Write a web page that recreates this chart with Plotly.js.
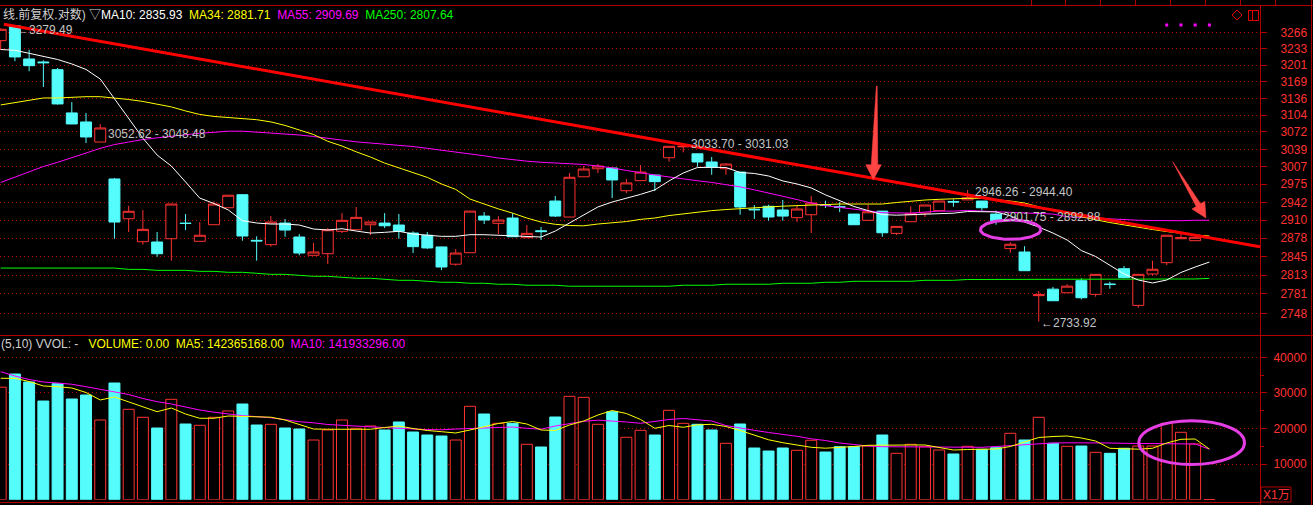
<!DOCTYPE html>
<html><head><meta charset="utf-8">
<script src="https://cdn.plot.ly/plotly-3.0.1.min.js"></script>
<style>html,body{margin:0;padding:0;background:#000;overflow:hidden}#chart{width:1313px;height:505px}</style>
</head><body><div id="chart"></div>
<script>
// ---------- price candles (index 0..84) ----------
const openP = [3249.2,3279.0,3212.9,3207.0,3191.9,3108.1,3090.9,3053.0,2984.5,2912.4,
 2871.6,2871.1,2876.9,2904.6,2872.3,2901.7,2932.2,2955.8,2874.0,2866.4,
 2904.7,2879.9,2847.7,2850.5,2890.0,2892.8,2901.7,2904.7,2901.2,2886.9,
 2883.0,2862.4,2832.2,2852.2,2917.2,2904.2,2913.7,2878.7,2891.0,2944.3,
 2915.5,2988.5,3003.3,3004.6,2963.0,2981.4,2991.7,3023.7,3044.0,3031.0,
 3015.8,3003.3,2997.2,2929.5,2934.8,2928.1,2914.3,2919.6,2938.0,2934.0,
 2920.8,2909.6,2926.1,2886.4,2907.1,2922.5,2926.9,2943.5,2946.3,2944.3,
 2920.8,2859.4,2853.5,2778.0,2789.1,2782.9,2803.6,2780.2,2798.0,2824.4,
 2761.4,2815.2,2834.8,2876.9,2873.4];
const highP = [3274.0,3279.49,3231.2,3210.3,3195.2,3129.1,3108.0,3087.1,2986.3,2935.8,
 2927.9,2888.7,2939.5,2920.8,2906.5,2943.8,2955.0,2957.0,2881.2,2917.2,
 2911.9,2885.2,2869.4,2895.8,2922.5,2933.5,2906.7,2922.5,2920.8,2890.0,
 2888.7,2862.6,2858.8,2926.3,2924.3,2917.2,2922.5,2901.2,2897.6,2953.5,
 2995.4,3008.3,3012.0,3004.8,2984.5,3010.2,2991.9,3045.2,3047.5,3031.03,
 3025.0,3013.9,2997.4,2937.1,2937.6,2946.2,2936.6,2953.5,2944.9,2942.5,
 2921.0,2937.6,2926.3,2898.9,2934.8,2937.3,2944.5,2947.4,2964.4,2944.40,
 2926.9,2870.6,2863.6,2785.8,2793.0,2797.6,2807.6,2814.8,2801.9,2829.1,
 2814.8,2838.3,2883.2,2888.2,2883.4];
const lowP = [3230.6,3208.4,3188.8,3158.0,3124.0,3086.5,3051.2,3052.62,2876.9,2888.7,
 2866.4,2845.2,2838.3,2892.3,2872.0,2901.5,2932.0,2873.4,2838.3,2862.9,
 2880.4,2847.7,2847.5,2832.5,2886.9,2892.5,2883.0,2895.8,2876.9,2851.7,
 2858.8,2822.1,2829.6,2852.0,2903.0,2885.2,2880.2,2878.5,2874.6,2915.5,
 2915.3,2988.3,2995.4,2949.7,2958.7,2981.2,2962.4,3016.3,3033.70,3007.0,
 2992.2,2992.2,2919.6,2911.9,2908.9,2908.9,2906.5,2886.9,2931.7,2924.3,
 2901.5,2909.4,2880.4,2883.4,2907.0,2915.5,2926.7,2934.0,2946.26,2926.9,
 2901.75,2852.2,2820.7,2733.92,2769.0,2782.7,2771.7,2776.1,2789.7,2807.8,
 2757.3,2812.9,2830.8,2876.7,2873.2];
const closeP = [3272.0,3216.9,3199.7,3205.5,3125.3,3087.1,3062.5,3079.5,2906.5,2925.8,
 2893.5,2850.5,2938.9,2904.0,2883.0,2938.9,2954.8,2881.7,2873.0,2906.5,
 2892.3,2851.7,2853.5,2892.8,2909.6,2914.9,2906.5,2899.9,2890.0,2862.9,
 2860.6,2827.3,2851.7,2926.1,2910.1,2910.1,2880.4,2886.4,2889.5,2917.2,
 2987.6,3002.8,3008.3,2982.7,2977.2,2997.2,2979.6,3045.0,3045.0,3015.8,
 3006.5,3012.0,2933.5,2928.5,2915.5,2917.2,2929.9,2940.7,2937.0,2933.0,
 2901.7,2924.9,2887.4,2898.8,2921.4,2937.1,2944.3,2942.5,2950.4,2932.2,
 2908.9,2867.1,2820.9,2779.5,2769.3,2794.2,2774.4,2814.6,2797.0,2808.8,
 2814.6,2823.4,2883.0,2878.7,2879.4];

// ---------- moving averages (index 0..85) ----------
const ma10 = [3231.6,3230.1,3224.1,3218.2,3211.9,3203.1,3192.3,3173.6,3135.8,3098.5,
 3060.3,3028.7,3008.3,2979.0,2949.6,2939.8,2928.3,2908.9,2904.8,2903.0,
 2903.0,2901.2,2894.1,2892.3,2894.6,2890.5,2886.9,2888.2,2890.0,2885.2,
 2882.9,2881.1,2881.1,2884.0,2884.0,2882.9,2880.8,2879.9,2879.9,2890.5,
 2904.8,2919.0,2933.6,2942.5,2949.1,2956.4,2964.5,2980.9,2995.5,3005.6,
 3005.9,3005.6,2996.4,2994.6,2990.0,2980.9,2975.3,2968.1,2955.5,2945.3,
 2934.5,2927.0,2919.9,2918.8,2919.9,2921.2,2922.4,2922.4,2925.3,2925.3,
 2924.7,2917.6,2906.5,2897.6,2886.9,2874.6,2856.0,2845.6,2831.1,2815.2,
 2804.8,2799.7,2804.8,2817.8,2827.3,2835.93];
const ma34 = [3123.4,3128.2,3133.3,3136.8,3136.8,3138.7,3139.3,3139.3,3136.8,3133.9,
 3130.1,3125.3,3119.6,3111.9,3105.2,3101.4,3099.3,3097.0,3095.2,3091.0,
 3084.3,3075.7,3067.2,3054.4,3045.5,3034.7,3025.0,3013.8,3004.6,2996.8,
 2987.4,2975.3,2965.4,2947.9,2938.9,2930.1,2922.5,2913.7,2906.5,2902.5,
 2900.3,2899.8,2903.0,2904.8,2907.4,2911.3,2913.7,2918.1,2921.3,2923.5,
 2927.0,2928.9,2930.9,2931.7,2933.6,2935.0,2936.3,2937.2,2938.0,2938.9,
 2938.9,2938.9,2938.9,2941.6,2944.3,2946.1,2947.4,2948.8,2949.2,2949.2,
 2947.4,2944.3,2940.7,2933.6,2927.0,2921.6,2915.5,2910.6,2905.6,2901.2,
 2897.6,2893.2,2889.6,2886.1,2883.4,2881.71];
const ma55 = [2978.1,2988.2,2998.2,3007.4,3015.2,3023.1,3032.4,3041.2,3048.3,3053.0,
 3057.7,3060.9,3063.8,3067.2,3069.6,3071.3,3073.4,3073.4,3071.9,3070.4,
 3069.1,3066.3,3063.4,3059.7,3056.8,3053.4,3051.2,3049.3,3047.4,3044.6,
 3041.2,3038.0,3034.3,3030.6,3027.3,3023.2,3019.6,3017.3,3015.3,3014.0,
 3012.9,3011.2,3008.3,3005.0,3000.1,2995.5,2991.8,2988.2,2984.1,2981.2,
 2978.1,2974.4,2970.0,2964.6,2959.2,2952.9,2947.0,2940.7,2935.9,2933.1,
 2930.0,2926.5,2923.2,2922.6,2922.6,2924.3,2926.1,2926.1,2927.4,2926.1,
 2924.9,2923.8,2922.6,2922.0,2920.8,2916.0,2914.5,2913.1,2912.8,2911.0,
 2909.7,2909.2,2908.9,2908.9,2909.7,2909.69];
const ma250 = [2825.5,2825.5,2825.5,2825.5,2825.5,2825.5,2825.5,2825.5,2825.5,2823.2,
 2823.2,2821.5,2821.5,2821.5,2819.8,2819.8,2818.1,2818.1,2816.4,2814.6,
 2814.6,2812.9,2811.2,2811.2,2809.5,2807.8,2807.8,2806.1,2804.3,2804.3,
 2802.6,2800.9,2800.9,2799.2,2799.2,2797.5,2797.5,2795.8,2795.8,2795.8,
 2794.1,2794.1,2794.1,2794.1,2794.1,2794.1,2794.1,2794.1,2795.8,2795.8,
 2795.8,2797.5,2797.5,2797.5,2797.5,2799.2,2799.2,2799.2,2800.9,2800.9,
 2802.6,2802.6,2802.6,2802.6,2802.6,2804.3,2804.3,2804.3,2805.7,2805.7,
 2805.7,2805.7,2805.7,2805.7,2806.6,2806.6,2806.6,2806.6,2806.6,2806.6,
 2806.6,2806.6,2806.6,2806.6,2806.6,2807.64];

// ---------- volume (x1万, index 0..85) ----------
const volume = [31600,35300,33060,27720,32580,28290,29410,22390,32780,25390,
 23150,20140,28200,21260,20900,23150,24920,26880,20980,21180,
 20140,19860,16770,19580,22390,20060,20700,19580,21830,19020,
 18170,17890,16770,26240,24070,21460,21460,15560,14800,23230,
 29040,28760,21180,24720,17530,19490,18170,25110,21460,21180,
 19580,15840,21260,14520,13680,14520,13880,16690,13400,14890,
 14890,15080,18170,13030,15560,14890,13960,12840,15000,14160,
 14610,18650,16770,23150,15840,15000,15080,13310,13030,14440,
 15080,15080,21460,18930,15650,0];
const volMa5 = [34100,34100,33200,31940,31740,31380,30110,28010,28850,27440,
 26120,24720,25760,24070,22870,22870,23510,23430,23290,23170,
 22390,21120,19860,19780,19780,19780,19780,20280,20700,20000,
 19440,19100,18740,19580,20560,21410,21970,21260,19580,19440,
 20980,22110,23790,25060,24210,22530,20060,20840,20340,21040,
 21180,20560,19440,18030,16830,16010,15370,14720,14470,14660,
 14940,15280,15370,15370,15370,15370,14660,13960,14100,14240,
 14240,14940,16210,17470,17750,17890,17330,16490,14440,14240,
 14190,14440,15930,16970,17050,14237];
const volMa10 = [35960,34750,33760,33060,32780,32420,31740,30960,30250,29550,
 28430,27530,26880,26040,25200,24580,23990,23600,23340,23010,
 22470,21910,21600,21120,20900,20650,20480,20280,20060,19860,
 19690,19640,19860,20030,20200,20420,20420,20060,19800,20700,
 21320,22020,22330,22160,21830,21460,21970,22530,22810,22530,
 22110,20840,20060,19490,18880,18400,17810,17110,16630,15930,
 15450,15080,14890,14890,14890,14890,14890,14890,14800,14720,
 14940,15230,15450,15840,15930,15980,16010,15980,15930,15840,
 15840,15840,15840,15790,15650,14193];

// ---------- axes ticks ----------
const priceTicks = [3266,3233,3201,3169,3136,3104,3072,3039,3007,2975,2942,2910,2878,2845,2813,2781,2748];
const volTicks = [10000,20000,30000,40000];
const volMinorTicks = [15000,25000,35000];

// ---------- drawn annotations (gaps, trend line, arrows, marks) ----------
const gapIndex = [7, 48, 68, 70];
const gapHigh = [3052.62, 3033.70, 2946.26, 2901.75];
const gapLow  = [3048.48, 3031.03, 2944.40, 2892.88];
const trendIdx = [0.23, 88.56];
const trendPrice = [3282.1, 2862.8];
const arrow1Idx = [61.58, 61.22, 60.83, 61.37, 61.93, 61.68, 61.64, 61.58];
const arrow1Price = [3160.0, 3010.8, 3010.8, 2983.2, 3010.8, 3010.8, 3160.0, 3160.0];
const arrow2Idx = [82.42, 84.07, 83.77, 84.76, 84.68, 84.38, 82.42];
const arrow2Price = [3016.4, 2934.6, 2930.1, 2913.8, 2943.8, 2939.3, 3016.4];
const ellipsePriceIdx = [68.9, 73.15], ellipsePrice = [2875.9, 2910.1];
const ellipseVolIdx = [80.04, 87.47], ellipseVol = [9888, 22163];
const signalIdx = [82, 83, 84, 85];
const signalLevel = 3280.7;
const extremeHighIdx = 1, extremeHigh = 3279.49;
const extremeLowIdx = 73, extremeLow = 2733.92;

// ---------- build ----------
const RED = '#ff3232', CYAN = '#54fcfc';
const cIdx = openP.map((_, i) => i);
const allIdx = volume.map((_, i) => i);
const isUp = i => i >= openP.length || closeP[i] >= openP[i];
const volFill = allIdx.map(i => isUp(i) ? '#000000' : CYAN);
const volLine = allIdx.map(i => isUp(i) ? RED : CYAN);
const XMAX = 88.56, XMIN = -0.049;
const FONT = 'Liberation Sans, Arial, Noto Sans CJK SC, sans-serif';

// ellipse outline on the log price axis (hand-drawn mark)
const ANG = Array.from({length:73}, (_, k) => k * 2 * Math.PI / 72);
const ecx = (ellipsePriceIdx[0] + ellipsePriceIdx[1]) / 2, erx = (ellipsePriceIdx[1] - ellipsePriceIdx[0]) / 2;
const ecy = (Math.log10(ellipsePrice[0]) + Math.log10(ellipsePrice[1])) / 2;
const ery = (Math.log10(ellipsePrice[1]) - Math.log10(ellipsePrice[0])) / 2;
const ellX = ANG.map(t => ecx + erx * Math.cos(t));
const ellY = ANG.map(t => Math.pow(10, ecy + ery * Math.sin(t)));

const traces = [
  {type:'candlestick', x:cIdx, open:openP, high:highP, low:lowP, close:closeP,
   xaxis:'x', yaxis:'y', whiskerwidth:0, hoverinfo:'skip',
   increasing:{line:{color:RED, width:1}, fillcolor:'#000000'},
   decreasing:{line:{color:CYAN, width:1}, fillcolor:CYAN}},
  {type:'scatter', mode:'lines', x:allIdx, y:ma250, line:{color:'#00ff00', width:1}, yaxis:'y', hoverinfo:'skip'},
  {type:'scatter', mode:'lines', x:allIdx, y:ma55, line:{color:'#ff00ff', width:1}, yaxis:'y', hoverinfo:'skip'},
  {type:'scatter', mode:'lines', x:allIdx, y:ma34, line:{color:'#ffff00', width:1}, yaxis:'y', hoverinfo:'skip'},
  {type:'scatter', mode:'lines', x:allIdx, y:ma10, line:{color:'#ffffff', width:1}, yaxis:'y', hoverinfo:'skip'},
  {type:'scatter', mode:'lines', x:trendIdx, y:trendPrice, line:{color:'#ff0000', width:3}, yaxis:'y', hoverinfo:'skip'},
  {type:'scatter', mode:'lines', x:ellX, y:ellY, line:{color:'#e43ee4', width:3}, yaxis:'y', hoverinfo:'skip'},
  {type:'scatter', mode:'lines', x:arrow1Idx, y:arrow1Price, fill:'toself', fillcolor:'#ff4444', line:{color:'#ff4444', width:0.5}, yaxis:'y', hoverinfo:'skip'},
  {type:'scatter', mode:'lines', x:arrow2Idx, y:arrow2Price, fill:'toself', fillcolor:'#ff4444', line:{color:'#ff4444', width:0.5}, yaxis:'y', hoverinfo:'skip'},
  {type:'scatter', mode:'markers', x:signalIdx, y:signalIdx.map(() => signalLevel), marker:{color:'#ff00ff', size:3, symbol:'square'}, yaxis:'y', hoverinfo:'skip'},
  {type:'bar', x:allIdx, y:volume, width:0.77, yaxis:'y2', hoverinfo:'skip',
   marker:{color:volFill, line:{color:volLine, width:1}}},
  {type:'scatter', mode:'lines', x:allIdx, y:volMa10, line:{color:'#ff00ff', width:1}, yaxis:'y2', hoverinfo:'skip'},
  {type:'scatter', mode:'lines', x:allIdx, y:volMa5, line:{color:'#ffff00', width:1}, yaxis:'y2', hoverinfo:'skip'}
];

// paper helpers for frame decorations (plot area: 1260 x 505 px)
const PX = px => px / 1260, PY = py => 1 - py / 505;
const BORDER = '#b00000';
const shapes = [];
// gap bands
gapIndex.forEach((g, k) => shapes.push({type:'rect', xref:'x', yref:'y', layer:'between',
  x0:g + 0.39, x1:XMAX, y0:Math.log10(gapLow[k]), y1:Math.log10(gapHigh[k]),
  fillcolor:'#9c9c9c', line:{width:0}}));
// zero-volume dashes
allIdx.forEach(i => { if (volume[i] === 0) shapes.push({type:'line', xref:'x', yref:'y2', x0:i - 0.385, x1:i + 0.385, y0:0, y1:0, line:{color:RED, width:1}}); });
// volume ellipse
shapes.push({type:'circle', xref:'x', yref:'y2', x0:ellipseVolIdx[0], x1:ellipseVolIdx[1],
  y0:ellipseVol[0], y1:ellipseVol[1], line:{color:'#e43ee4', width:3}});
// frame
const hline = (py, x0, x1) => ({type:'line', xref:'paper', yref:'paper', x0:PX(x0), x1:PX(x1), y0:PY(py), y1:PY(py), line:{color:BORDER, width:1}});
const vline = (px, y0, y1) => ({type:'line', xref:'paper', yref:'paper', x0:PX(px), x1:PX(px), y0:PY(y0), y1:PY(y1), line:{color:BORDER, width:1}});
shapes.push(hline(5.5, 0, 1313), hline(335.5, 0, 1313), hline(502.5, 0, 1260));
shapes.push(vline(1260.5, 5.5, 505), vline(1311.5, 0, 505));
[1031.5, 1065.5, 1100.5, 1135.5, 1170.5, 1205.5, 1240.5, 1275.5].forEach(x => shapes.push(vline(x, 0, 5.5)));
shapes.push({type:'rect', xref:'paper', yref:'paper', x0:PX(1261), x1:PX(1291), y0:PY(502), y1:PY(487), line:{color:BORDER, width:1}});
// top-right icons
shapes.push({type:'path', xref:'paper', yref:'paper', line:{color:'#e00000', width:1},
  path:`M ${PX(1237)},${PY(10)} L ${PX(1242)},${PY(15)} L ${PX(1237)},${PY(20)} L ${PX(1232)},${PY(15)} Z`});
shapes.push({type:'rect', xref:'paper', yref:'paper', x0:PX(1248.5), x1:PX(1258.5), y0:PY(20.5), y1:PY(10.5), line:{color:'#e00000', width:1}});
shapes.push(Object.assign(vline(1252.5, 10.5, 20.5), {line:{color:'#e00000', width:1}}));

const GREY = '#c4c4c4';
const nb = s => s.replace(/ /g, '\u00a0');
const annotations = [
  {xref:'paper', yref:'paper', x:PX(0.5), y:PY(14.5), xanchor:'left', yanchor:'middle', showarrow:false,
   font:{family:FONT, size:12, color:'#d0d0d0'},
   text: nb('线.前复权.对数) ▽') + '<span style="color:#ffffff">' + nb('MA10: 2835.93  ') + '</span>' +
     '<span style="color:#ffff00">' + nb('MA34: 2881.71  ') + '</span>' +
     '<span style="color:#ff00ff">' + nb('MA55: 2909.69  ') + '</span>' +
     '<span style="color:#00ff00">' + nb('MA250: 2807.64') + '</span>'},
  {xref:'paper', yref:'paper', x:PX(-1), y:PY(344), xanchor:'left', yanchor:'middle', showarrow:false,
   font:{family:FONT, size:12, color:'#d0d0d0'},
   text: nb('(5,10) VVOL: -   ') + '<span style="color:#ffff00">' + nb('VOLUME: 0.00  MA5: 142365168.00  ') + '</span>' +
     '<span style="color:#ff00ff">' + nb('MA10: 141933296.00') + '</span>'},
  {xref:'paper', yref:'paper', x:PX(1276), y:PY(494.5), xanchor:'center', yanchor:'middle', showarrow:false,
   font:{family:FONT, size:12, color:RED}, text:'X1万'},
  {xref:'x', yref:'y', x:extremeHighIdx, y:Math.log10(extremeHigh), xanchor:'left', yanchor:'middle', yshift:-4, showarrow:false,
   font:{family:FONT, size:12, color:GREY}, text:'←' + extremeHigh.toFixed(2)},
  {xref:'x', yref:'y', x:extremeLowIdx, y:Math.log10(extremeLow), xanchor:'left', yanchor:'middle', yshift:-1, showarrow:false,
   font:{family:FONT, size:12, color:GREY}, text:'←' + extremeLow.toFixed(2)}
];
gapIndex.forEach((g, k) => annotations.push({xref:'x', yref:'y', x:g + 0.38, y:Math.log10(gapHigh[k]),
  xanchor:'left', yanchor:'middle', yshift:8, showarrow:false,
  font:{family:FONT, size:12, color:GREY}, text:nb(gapHigh[k].toFixed(2) + ' - ' + gapLow[k].toFixed(2))}));

const layout = {
  width:1313, height:505, paper_bgcolor:'#000000', plot_bgcolor:'#000000',
  margin:{l:0, r:53, t:0, b:0}, showlegend:false, hovermode:false, dragmode:false,
  boxgap:0.23, boxgroupgap:0, bargap:0,
  xaxis:{range:[XMIN, XMAX], domain:[0, 1], visible:false, rangeslider:{visible:false}, fixedrange:true},
  yaxis:{type:'log', domain:[PY(335), PY(6)], range:[Math.log10(3266) - (335 - 32.3) / 3746.7, Math.log10(3266) + (32.3 - 6) / 3746.7],
    side:'right', anchor:'x', tickvals:priceTicks, ticktext:priceTicks.map(String),
    ticks:'outside', ticklen:6, tickcolor:BORDER, ticklabelstandoff:11,
    tickfont:{family:FONT, size:12, color:RED},
    showgrid:true, gridcolor:'#b00000', griddash:'1px,3px', gridwidth:1,
    showline:false, zeroline:false, fixedrange:true},
  yaxis2:{domain:[PY(499.7), PY(337)], range:[0, 45702], side:'right', anchor:'x',
    tickvals:volTicks, ticktext:volTicks.map(String),
    ticks:'outside', ticklen:6, tickcolor:BORDER, ticklabelstandoff:4,
    minor:{tickvals:volMinorTicks, ticks:'outside', ticklen:3, tickcolor:BORDER, showgrid:false},
    tickfont:{family:FONT, size:12, color:RED},
    showgrid:true, gridcolor:'#b00000', griddash:'1px,3px', gridwidth:1,
    showline:false, zeroline:false, fixedrange:true},
  shapes:shapes, annotations:annotations
};

Plotly.newPlot('chart', traces, layout, {staticPlot:true, displayModeBar:false});
</script>
</body></html>
